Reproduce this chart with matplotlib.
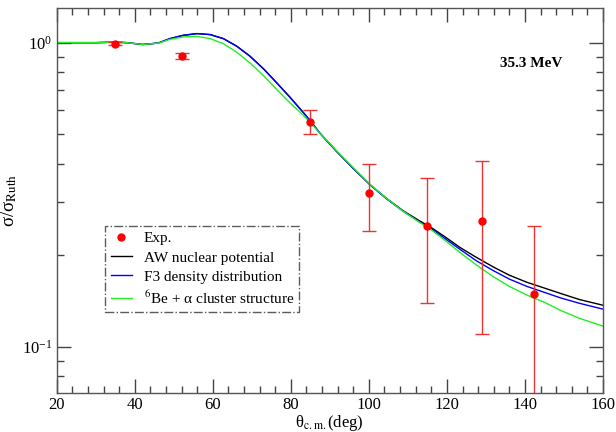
import matplotlib
matplotlib.use("Agg")
import matplotlib.pyplot as plt
from matplotlib.lines import Line2D
from matplotlib.ticker import LogLocator, MultipleLocator, NullFormatter

plt.rcParams['font.family'] = ['Liberation Serif', 'DejaVu Serif']
plt.rcParams['mathtext.fontset'] = 'stix'

# experimental points
exp_theta = [34.8, 52.2, 84.9, 100.1, 115.0, 129.0, 142.4]
exp_val = [0.993, 0.905, 0.550, 0.320, 0.249, 0.259, 0.149]
exp_err = [0.012, 0.021, 0.050, 0.080, 0.110, 0.149, 0.100]

# calculated curves
theta = [20, 25, 30, 35, 38, 42, 46, 49, 52.4, 55.9, 59.3, 62.7, 66.1, 69.5,
         73.0, 76.4, 79.8, 83.2, 85, 87.5, 91.8, 96, 100.3, 104.6, 108.8,
         113.1, 115.7, 119.5, 123.4, 127.5, 131.9, 136, 140.5, 145, 149, 154, 160]

aw = [1.0, 1.0, 1.0, 1.004, 1.0, 0.986, 0.997, 1.031, 1.057, 1.071, 1.063, 1.031,
      0.974, 0.903, 0.820, 0.737, 0.661, 0.589, 0.553, 0.503, 0.438, 0.386, 0.341,
      0.307, 0.280, 0.259, 0.248, 0.230, 0.212, 0.197, 0.183, 0.172, 0.163, 0.156,
      0.150, 0.143, 0.137]

f3 = [1.0, 1.0, 1.0, 1.004, 1.0, 0.986, 0.997, 1.031, 1.057, 1.071, 1.063, 1.031,
      0.974, 0.903, 0.820, 0.737, 0.661, 0.589, 0.553, 0.503, 0.438, 0.386, 0.341,
      0.306, 0.279, 0.257, 0.246, 0.227, 0.209, 0.192, 0.178, 0.167, 0.158, 0.151,
      0.145, 0.139, 0.133]

cluster = [1.0, 1.0, 1.0, 1.004, 1.0, 0.986, 0.996, 1.025, 1.044, 1.049, 1.031, 0.992,
           0.931, 0.858, 0.779, 0.701, 0.633, 0.577, 0.546, 0.503, 0.440, 0.388, 0.342,
           0.307, 0.279, 0.256, 0.244, 0.224, 0.204, 0.186, 0.170, 0.158, 0.148, 0.140,
           0.132, 0.124, 0.117]

fig = plt.figure(figsize=(6.16, 4.32), dpi=100)
ax = fig.add_axes([0.0922, 0.0903, 0.8866, 0.8912])

ax.plot(theta, aw, color='black', lw=1.0)
ax.plot(theta, f3, color='#0000ff', lw=1.0)
ax.plot(theta, cluster, color='#22ee22', lw=1.0)
ax.errorbar(exp_theta, exp_val, yerr=exp_err, fmt='o', color='red', ms=5,
            ecolor='#ee3333', elinewidth=1.0, capsize=5, capthick=1.0)

ax.set_yscale('log')
ax.set_xlim(20, 160)
ax.set_ylim(0.0705, 1.30)

ax.xaxis.set_major_locator(MultipleLocator(20))
ax.xaxis.set_minor_locator(MultipleLocator(4))
ax.yaxis.set_major_locator(LogLocator(base=10))
ax.yaxis.set_minor_locator(LogLocator(base=10, subs=range(2, 10)))
ax.yaxis.set_minor_formatter(NullFormatter())

ax.tick_params(which='both', direction='in', top=True, right=True, labelsize=12,
               color='#444444', pad=3)
ax.tick_params(which='major', length=10, width=1)
ax.tick_params(which='minor', length=5, width=1)
for sp in ax.spines.values():
    sp.set_color('#555555')
    sp.set_linewidth(1.0)

ax.set_xlabel('θ$_{\\rm c.m.}$(deg)', fontsize=12, labelpad=0)
ax.set_ylabel('σ/σ$_{\\rm Ruth}$', fontsize=13.5, labelpad=2)

ax.text(0.925, 0.855, '35.3 MeV', transform=ax.transAxes, fontsize=11,
        fontweight='bold', ha='right', va='center')

handles = [
    Line2D([], [], ls='none', marker='o', color='red', ms=5),
    Line2D([], [], color='black', lw=1.0),
    Line2D([], [], color='#0000ff', lw=1.0),
    Line2D([], [], color='#22ee22', lw=1.0),
]
labels = ['Exp.', 'AW nuclear potential', 'F3 density distribution',
          '$^{6}$Be + α cluster structure']
leg = ax.legend(handles, labels, loc='upper left', bbox_to_anchor=(0.089, 0.433),
                fontsize=11, frameon=True, fancybox=False, edgecolor='#333333',
                handlelength=1.4, handletextpad=0.75, labelspacing=0.36,
                borderpad=0.35, borderaxespad=0)
leg.get_frame().set_linestyle('-.')
leg.get_frame().set_linewidth(1.0)

fig.savefig('out.png', dpi=100)
